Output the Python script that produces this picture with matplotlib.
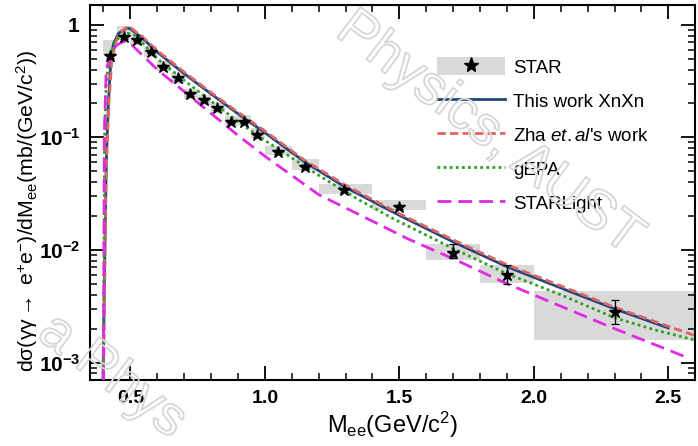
import numpy as np
import matplotlib
matplotlib.use('Agg')
import matplotlib.pyplot as plt
import matplotlib.patheffects as pe
from matplotlib.patches import Rectangle
from matplotlib.lines import Line2D
from matplotlib.ticker import MultipleLocator, LogLocator, FixedLocator, FixedFormatter, NullFormatter

plt.rcParams['font.family'] = ['Liberation Sans', 'DejaVu Sans']
plt.rcParams['mathtext.fontset'] = 'custom'
plt.rcParams['mathtext.rm'] = 'Liberation Sans'
plt.rcParams['mathtext.it'] = 'Liberation Sans:italic'
plt.rcParams['mathtext.bf'] = 'Liberation Sans:bold'

# STAR data
m_star = np.array([0.426, 0.475, 0.525, 0.577, 0.622, 0.676, 0.720, 0.772, 0.822, 0.874,
                   0.921, 0.971, 1.048, 1.151, 1.296, 1.497, 1.698, 1.900, 2.300])
xs_star = np.array([0.53, 0.777, 0.735, 0.578, 0.425, 0.335, 0.243, 0.215, 0.181, 0.138,
                    0.138, 0.105, 0.0735, 0.0547, 0.034, 0.0241, 0.00946, 0.00603, 0.0028])
stat_lo = np.array([0.51, 0.75, 0.71, 0.56, 0.41, 0.325, 0.235, 0.208, 0.175, 0.133,
                    0.133, 0.101, 0.0705, 0.0525, 0.0325, 0.0230, 0.0084, 0.0050, 0.00218])
stat_hi = np.array([0.55, 0.80, 0.76, 0.60, 0.44, 0.345, 0.251, 0.222, 0.187, 0.143,
                    0.143, 0.109, 0.0765, 0.0570, 0.0355, 0.0252, 0.0114, 0.0074, 0.00363])
bin_lo = np.array([0.40, 0.45, 0.50, 0.55, 0.60, 0.65, 0.70, 0.75, 0.80, 0.85,
                   0.90, 0.95, 1.00, 1.10, 1.20, 1.40, 1.60, 1.80, 2.00])
bin_hi = np.array([0.445, 0.51, 0.55, 0.60, 0.65, 0.70, 0.75, 0.80, 0.85, 0.90,
                   0.95, 1.00, 1.10, 1.20, 1.40, 1.60, 1.80, 2.00, 2.60])
sys_lo = np.array([0.54, 0.75, 0.66, 0.52, 0.385, 0.30, 0.22, 0.195, 0.163, 0.125,
                   0.128, 0.098, 0.069, 0.0517, 0.0317, 0.0225, 0.0082, 0.0051, 0.00157])
sys_hi = np.array([0.735, 0.98, 0.82, 0.65, 0.475, 0.375, 0.27, 0.24, 0.20, 0.155,
                   0.158, 0.120, 0.084, 0.0642, 0.0389, 0.0277, 0.0114, 0.0073, 0.00431])

# This work XnXn
m_blue = [0.398, 0.405, 0.410, 0.413, 0.419, 0.428, 0.438, 0.456, 0.487, 0.50, 0.55, 0.60,
          0.70, 0.80, 0.90, 1.00, 1.15, 1.30, 1.50, 1.70, 1.90, 2.10, 2.30, 2.50]
xs_blue = [0.0007, 0.01, 0.05, 0.095, 0.215, 0.52, 0.687, 0.84, 0.935, 0.92, 0.74, 0.571,
           0.368, 0.243, 0.162, 0.110, 0.060, 0.036, 0.0203, 0.0118, 0.0071, 0.0046, 0.0030, 0.00203]
# Zha et.al's work
m_red = [0.400, 0.410, 0.420, 0.430, 0.440, 0.460, 0.490, 0.50, 0.55, 0.60, 0.70, 0.80, 0.90,
         1.00, 1.15, 1.30, 1.50, 1.70, 1.90, 2.10, 2.30, 2.50, 2.60]
xs_red = [0.0007, 0.05, 0.20, 0.45, 0.65, 0.85, 0.96, 0.945, 0.76, 0.59, 0.38, 0.25, 0.167,
          0.114, 0.062, 0.0375, 0.0210, 0.0123, 0.0074, 0.0048, 0.0031, 0.0021, 0.00173]
# gEPA
m_green = [0.400, 0.404, 0.410, 0.420, 0.440, 0.460, 0.490, 0.52, 0.60, 0.70, 0.80, 0.90,
           1.00, 1.20, 1.35, 1.48, 1.70, 1.90, 2.10, 2.30, 2.45, 2.60]
xs_green = [0.0007, 0.1, 0.3, 0.5, 0.68, 0.78, 0.84, 0.80, 0.50, 0.32, 0.21, 0.138,
            0.094, 0.046, 0.0278, 0.0188, 0.0103, 0.00615, 0.0040, 0.0025, 0.00195, 0.00158]
# STARLight
m_mag = [0.400, 0.403, 0.410, 0.430, 0.450, 0.475, 0.50, 0.60, 0.70, 0.80, 0.90, 1.00,
         1.20, 1.43, 1.53, 1.70, 1.90, 2.30, 2.57]
xs_mag = [0.0007, 0.1, 0.4, 0.58, 0.66, 0.71, 0.68, 0.40, 0.255, 0.163, 0.104, 0.068,
          0.031, 0.0166, 0.0126, 0.00836, 0.00501, 0.0020, 0.00111]

fig = plt.figure(figsize=(6.98, 4.46), dpi=100)
ax = fig.add_axes([0.129, 0.148, 0.867, 0.841])

ax.bar((bin_lo + bin_hi) / 2, sys_hi - sys_lo, bottom=sys_lo, width=bin_hi - bin_lo,
       color='#d9d9d9', lw=0, zorder=1)

ax.plot(m_blue, xs_blue, color='#22457a', lw=2, zorder=3)
ax.plot(m_red, xs_red, color='#e06464', lw=2, ls=(0, (3, 1.5)), zorder=3)
ax.plot(m_green, xs_green, color='#2f9e26', lw=2, ls=(0, (1, 1.2)), zorder=3)
ax.plot(m_mag, xs_mag, color='#e02ce0', lw=2, ls=(0, (5, 2.5)), zorder=3)

ax.errorbar(m_star, xs_star, yerr=[xs_star - stat_lo, stat_hi - xs_star], fmt='none',
            ecolor='k', elinewidth=0.9, capsize=3, capthick=0.9, zorder=4)
ax.plot(m_star, xs_star, ls='none', marker='*', ms=9, color='k', zorder=5)

ax.set_yscale('log')
ax.set_xlim(0.35, 2.6)
ax.set_ylim(7e-4, 1.5)

ax.xaxis.set_major_locator(FixedLocator([0.5, 1.0, 1.5, 2.0, 2.5]))
ax.xaxis.set_minor_locator(MultipleLocator(0.1))
ax.set_xticklabels(['0.5', '1.0', '1.5', '2.0', '2.5'], fontsize=14, fontweight='bold')
ax.yaxis.set_major_locator(FixedLocator([1e-3, 1e-2, 1e-1, 1]))
ax.yaxis.set_major_formatter(FixedFormatter([r'$\mathbf{10^{-3}}$', r'$\mathbf{10^{-2}}$',
                                             r'$\mathbf{10^{-1}}$', r'$\mathbf{1}$']))
ax.yaxis.set_minor_locator(LogLocator(base=10, subs=np.arange(2, 10)))
ax.yaxis.set_minor_formatter(NullFormatter())
ax.tick_params(axis='y', labelsize=15)
ax.tick_params(which='major', direction='in', top=True, right=True, length=10, width=1.3, pad=7)
ax.tick_params(which='minor', direction='in', top=True, right=True, length=5, width=1.1)
for s in ax.spines.values():
    s.set_linewidth(1.5)

ax.set_xlabel(r'M$_{\rm ee}$(GeV/c$^{2}$)', fontsize=17, labelpad=2)
ax.set_ylabel('dσ(γγ$\\rightarrow$ e$^{+}$e$^{-}$)/dM$_{\\rm ee}$(mb/(GeV/c$^{2}$))', fontsize=15.3)
ax.yaxis.set_label_coords(-0.083, 0.45)

star_h = (Rectangle((0, 0), 1, 1, fc='#d9d9d9', ec='none'),
          Line2D([], [], ls='none', marker='*', ms=11, color='k'))
h_blue = Line2D([], [], color='#22457a', lw=2)
h_red = Line2D([], [], color='#e06464', lw=2, ls=(0, (3, 1.5)))
h_green = Line2D([], [], color='#2f9e26', lw=2, ls=(0, (1, 1.2)))
h_mag = Line2D([], [], color='#e02ce0', lw=2, ls=(0, (5, 2.5)))
ax.legend([star_h, h_blue, h_red, h_green, h_mag],
          ['STAR', 'This work XnXn', r"Zha $\mathit{et.al}$'s work", 'gEPA', 'STARLight'],
          loc='upper left', bbox_to_anchor=(0.574, 0.86), frameon=False, fontsize=13.5,
          handlelength=3.6, handleheight=1.1, handletextpad=0.45, labelspacing=0.78,
          borderpad=0, borderaxespad=0)

# watermark (outlined letters only)
wm = dict(fontsize=40, color=(1, 1, 1, 0), rotation=-37, ha='center', va='center', zorder=10,
          path_effects=[pe.withStroke(linewidth=1.3, foreground='#d6d6d6')])
fig.text(0.70, 0.70, 'Physics, AUST', **wm)
fig.text(0.16, 0.155, 'a Phys', **wm)

fig.savefig('out.png', dpi=100)
